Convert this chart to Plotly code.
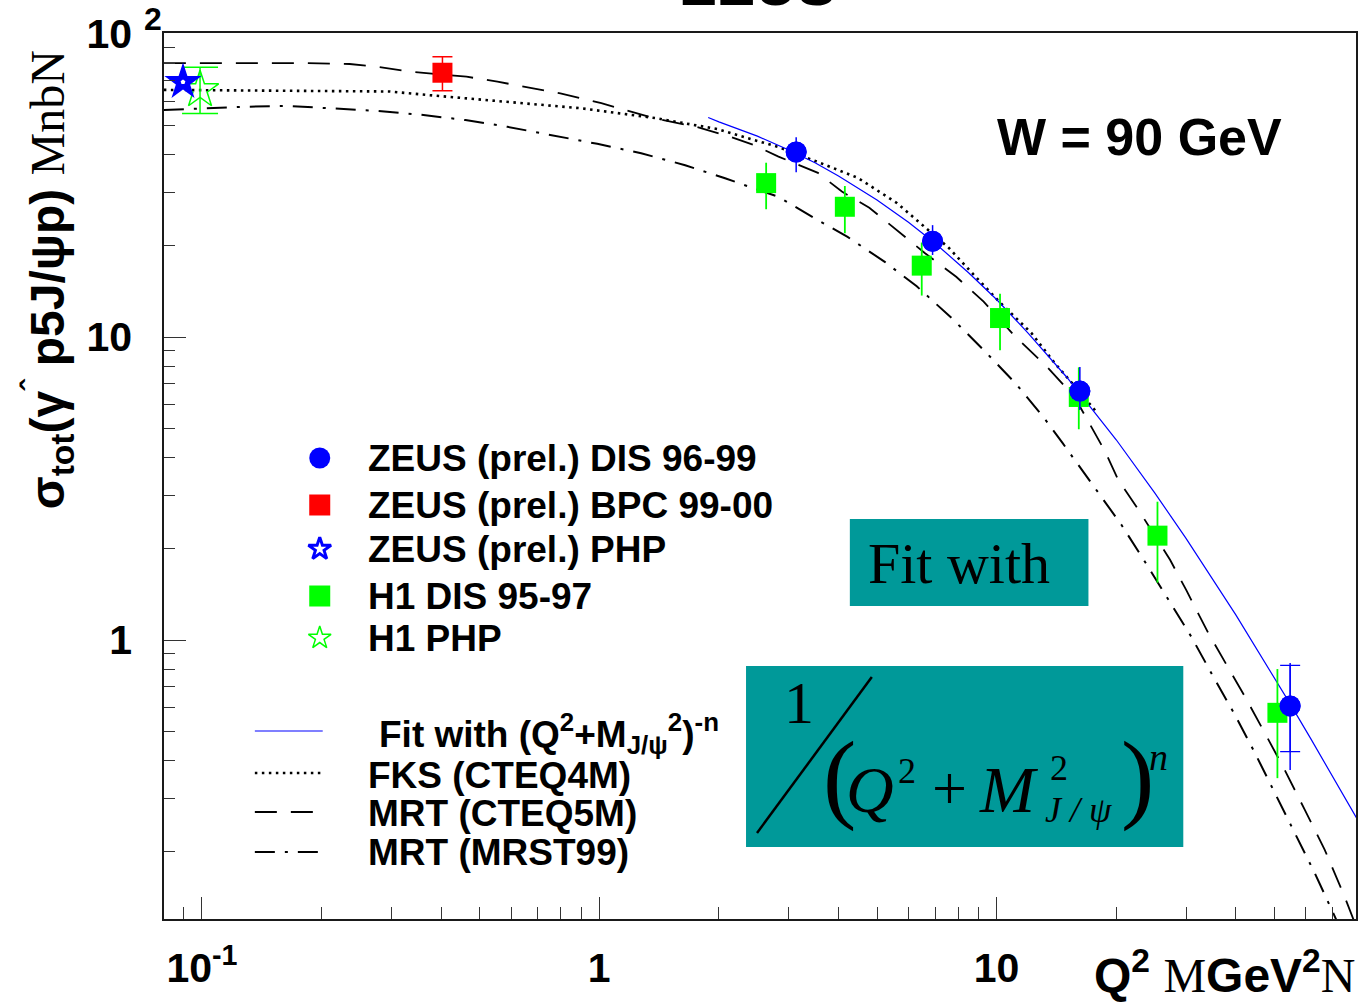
import plotly.graph_objects as go

# ---------------- measurements ----------------
zeus_dis_q2 = [3.13, 6.9, 16.2, 54.8]
zeus_dis_sigma = [40.8, 20.7, 6.63, 0.606]
zeus_dis_err_up = [4.8, 2.7, 1.33, 0.234]
zeus_dis_err_dn = [5.8, 2.05, 0.89, 0.234]
zeus_dis_stat_up = [0.0, 0.0, 0.0, 0.219]
zeus_dis_stat_dn = [0.0, 0.0, 0.0, 0.178]

zeus_bpc_q2 = [0.403]
zeus_bpc_sigma = [74.5]
zeus_bpc_err_up = [9.6]
zeus_bpc_err_dn = [9.5]

zeus_php_q2 = [0.0896]
zeus_php_sigma = [69.4]

h1_dis_q2 = [2.63, 4.15, 6.48, 10.2, 16.1, 25.4, 50.9]
h1_dis_sigma = [32.2, 26.9, 17.2, 11.55, 6.34, 2.21, 0.575]
h1_dis_err_up = [5.4, 4.6, 3.3, 2.35, 1.6, 0.65, 0.227]
h1_dis_err_dn = [5.8, 4.9, 3.5, 2.5, 1.38, 0.664, 0.225]

h1_php_q2 = [0.0989]
h1_php_sigma = [65.4]
h1_php_err_up = [12.2]
h1_php_err_dn = [10.7]

# ---------------- curves ----------------
fit_q2 = [1.88, 2.0, 2.5, 3.0, 3.5, 4.0, 5.0, 6.0, 7.0, 8.5, 10, 12, 15, 20,
          25, 30, 40, 47, 55, 62, 70, 82]
fit_sigma = [53.0, 51.3, 46.0, 41.4, 37.5, 34.0, 28.3, 23.9, 20.4, 16.3, 13.3,
             10.3, 7.38, 4.58, 3.06, 2.16, 1.21, 0.859, 0.611, 0.468, 0.356, 0.248]

fks_q2 = [0.0802, 0.297, 0.370, 0.574, 0.896, 1.394, 1.991, 2.368, 2.817, 3.551,
          4.476, 5.607, 6.594, 7.576, 8.855, 10.17, 12.24, 13.99, 15.70, 17.83]
fks_sigma = [65.4, 64.6, 62.9, 59.8, 56.9, 52.7, 48.5, 45.3, 42.4, 37.8,
             33.5, 27.7, 23.1, 19.7, 15.8, 13.05, 10.3, 8.21, 6.9, 5.66]

cteq5_q2 = [0.0802, 0.1176, 0.1763, 0.2354, 0.2801, 0.3332, 0.4633, 0.5543, 0.6788,
            0.7981, 1.012, 1.169, 1.374, 1.763, 2.146, 2.451, 2.825, 3.551, 4.079,
            4.782, 5.607, 6.594, 7.912, 9.276, 11.15, 13.38, 15.70, 17.23, 18.79,
            20.25, 22.75, 27.32, 30.02, 34.09, 38.28, 42.17, 47.33, 53.13, 59.66,
            66.96, 75.17, 80.0]
cteq5_sigma = [80.1, 80.1, 80.2, 79.6, 77.8, 75.2, 72.3, 69.6, 66.2,
               63.7, 59.1, 56.1, 52.7, 49.3, 45.7, 43.0, 39.4, 34.8, 30.2,
               26.7, 22.55, 18.93, 15.81, 13.08, 10.02, 7.98, 6.35, 5.12, 4.17,
               3.37, 2.69, 1.84, 1.46, 1.055, 0.815, 0.650, 0.493, 0.372, 0.275,
               0.203, 0.142, 0.115]

mrst_q2 = [0.0802, 0.126, 0.1626, 0.2121, 0.2737, 0.3529, 0.4605, 0.5872, 0.7666,
           0.9885, 1.275, 1.645, 2.073, 2.523, 2.825, 3.551, 4.216, 5.23, 6.295,
           7.732, 9.276, 11.15, 13.09, 14.65, 18.36, 20.61, 23.64, 27.05, 30.9,
           35.1, 39.79, 44.67, 50.13, 56.3, 63.21, 70.25, 72.5]
mrst_sigma = [56.1, 57.5, 57.9, 56.9, 55.8, 54.2, 52.0, 49.4, 46.2,
              43.4, 40.4, 36.9, 33.4, 30.6, 29.0, 24.3, 21.4, 17.7, 14.7,
              11.5, 9.06, 7.04, 5.46, 4.47, 2.97, 2.40, 1.81, 1.355, 1.025,
              0.757, 0.566, 0.424, 0.313, 0.231, 0.170, 0.126, 0.115]

# ---------------- axis ticks ----------------
x_major = [0.1, 1, 10]
x_major_text = ["10<sup>-1</sup>", "1", "10"]
x_minor = [0.09, 0.2, 0.3, 0.4, 0.5, 0.6, 0.7, 0.8, 0.9,
           2, 3, 4, 5, 6, 7, 8, 9, 20, 30, 40, 50, 60, 70, 80]
y_major = [1, 10, 100]
y_major_text = ["1", "10", "10"]
y_top_exponent = "2"
y_minor = [0.2, 0.3, 0.4, 0.5, 0.6, 0.7, 0.8, 0.9,
           2, 3, 4, 5, 6, 7, 8, 9, 20, 30, 40, 50, 60, 70, 80, 90]

# ---------------- styling ----------------
BLUE = "#0000ff"
RED = "#ff0000"
GREEN = "#00ff00"
TEAL = "#009999"
SANS = "Liberation Sans, Arial, sans-serif"
SERIF = "Liberation Serif, Times New Roman, serif"

# plot frame in page pixels
L, R, T, B = 164, 1358, 33, 919


def fx(px):
    return (px - L) / (R - L)


def fy(py):
    return (B - py) / (B - T)


fig = go.Figure()

# theory curves
fig.add_trace(go.Scatter(x=mrst_q2, y=mrst_sigma, mode="lines",
                         line=dict(color="black", width=2, dash="20px,10px,3px,10px")))
fig.add_trace(go.Scatter(x=cteq5_q2, y=cteq5_sigma, mode="lines",
                         line=dict(color="black", width=1.8, dash="22px,14px")))
fig.add_trace(go.Scatter(x=fks_q2, y=fks_sigma, mode="lines",
                         line=dict(color="black", width=2.6, dash="2.5px,4.5px")))
fig.add_trace(go.Scatter(x=fit_q2, y=fit_sigma, mode="lines",
                         line=dict(color=BLUE, width=1.2)))

# H1 photoproduction
fig.add_trace(go.Scatter(
    x=h1_php_q2, y=h1_php_sigma, mode="markers",
    marker=dict(symbol="star-open", size=28, color=GREEN, line=dict(color=GREEN, width=1.5)),
    error_y=dict(type="data", symmetric=False, array=h1_php_err_up,
                 arrayminus=h1_php_err_dn, color=GREEN, thickness=1.5, width=18)))

# ZEUS photoproduction
fig.add_trace(go.Scatter(
    x=zeus_php_q2, y=zeus_php_sigma, mode="markers",
    marker=dict(symbol="star", size=28, color=BLUE, line=dict(width=0))))
fig.add_trace(go.Scatter(
    x=zeus_php_q2, y=zeus_php_sigma, mode="markers",
    marker=dict(symbol="pentagon", size=5, color="white", line=dict(width=0))))

# ZEUS BPC
fig.add_trace(go.Scatter(
    x=zeus_bpc_q2, y=zeus_bpc_sigma, mode="markers",
    marker=dict(symbol="square", size=20, color=RED, line=dict(width=0)),
    error_y=dict(type="data", symmetric=False, array=zeus_bpc_err_up,
                 arrayminus=zeus_bpc_err_dn, color=RED, thickness=1.5, width=10)))

# H1 DIS
fig.add_trace(go.Scatter(
    x=h1_dis_q2, y=h1_dis_sigma, mode="markers",
    marker=dict(symbol="square", size=20, color=GREEN, line=dict(width=0)),
    error_y=dict(type="data", symmetric=False, array=h1_dis_err_up,
                 arrayminus=h1_dis_err_dn, color=GREEN, thickness=1.8, width=0)))

# ZEUS DIS: total errors, then statistical errors with caps
fig.add_trace(go.Scatter(
    x=zeus_dis_q2, y=zeus_dis_sigma, mode="markers",
    marker=dict(symbol="circle", size=21, color=BLUE, line=dict(width=0)),
    error_y=dict(type="data", symmetric=False, array=zeus_dis_err_up,
                 arrayminus=zeus_dis_err_dn, color=BLUE, thickness=1.5, width=0)))
fig.add_trace(go.Scatter(
    x=zeus_dis_q2, y=zeus_dis_sigma, mode="markers",
    marker=dict(symbol="circle", size=21, color=BLUE, line=dict(width=0)),
    error_y=dict(type="data", symmetric=False, array=zeus_dis_stat_up,
                 arrayminus=zeus_dis_stat_dn, color=BLUE, thickness=1.2, width=10)))

# ---------------- legend keys (overlay axes spanning the plot frame) ----------------
marker_keys = [
    (458, dict(symbol="circle", size=21, color=BLUE, line=dict(width=0))),
    (505, dict(symbol="square", size=21, color=RED, line=dict(width=0))),
    (549, dict(symbol="star-open", size=17, color=BLUE, line=dict(color=BLUE, width=3))),
    (596, dict(symbol="square", size=21, color=GREEN, line=dict(width=0))),
    (638, dict(symbol="star-open", size=17, color=GREEN, line=dict(color=GREEN, width=1.5))),
]
for py, mk in marker_keys:
    fig.add_trace(go.Scatter(x=[fx(320)], y=[fy(py)], xaxis="x2", yaxis="y2",
                             mode="markers", marker=mk, cliponaxis=False))

line_keys = [
    (731, dict(color=BLUE, width=1.2)),
    (773, dict(color="black", width=2.6, dash="2.5px,4.5px")),
    (812, dict(color="black", width=1.8, dash="22px,14px")),
    (852, dict(color="black", width=2, dash="20px,10px,3px,10px")),
]
for py, ln in line_keys:
    fig.add_trace(go.Scatter(x=[fx(255), fx(323)], y=[fy(py), fy(py)], xaxis="x2", yaxis="y2",
                             mode="lines", line=ln, cliponaxis=False))

legend_text = [
    (366, 458, "ZEUS (prel.) DIS 96-99"),
    (366, 505, "ZEUS (prel.) BPC 99-00"),
    (366, 549, "ZEUS (prel.) PHP"),
    (366, 596, "H1 DIS 95-97"),
    (366, 638, "H1 PHP"),
    (377, 733, "Fit with (Q<sup>2</sup>+M<sub>J/ψ</sub><sup>2</sup>)<sup>-n</sup>"),
    (366, 775, "FKS (CTEQ4M)"),
    (366, 813, "MRT (CTEQ5M)"),
    (366, 852, "MRT (MRST99)"),
]

annotations = []
for px, py, txt in legend_text:
    annotations.append(dict(x=fx(px), y=fy(py), xref="paper", yref="paper", text=txt,
                            showarrow=False, xanchor="left", yanchor="middle",
                            font=dict(family=SANS, size=37, color="black", weight="bold")))

# exponent of the top y tick label
annotations.append(dict(x=fx(153), y=fy(19), xref="paper", yref="paper", text=y_top_exponent,
                        showarrow=False, xanchor="center", yanchor="middle",
                        font=dict(family=SANS, size=32, color="black", weight="bold")))

# heading and energy label
annotations.append(dict(x=fx(759), y=fy(-16), xref="paper", yref="paper", text="ZEUS",
                        showarrow=False, xanchor="center", yanchor="middle",
                        font=dict(family=SANS, size=58, color="black", weight="bold")))
annotations.append(dict(x=fx(1141), y=fy(137), xref="paper", yref="paper", text="W = 90 GeV",
                        showarrow=False, xanchor="center", yanchor="middle",
                        font=dict(family=SANS, size=52, color="black", weight="bold")))

# axis titles
serif_span = "<span style='font-family:Liberation Serif, Times New Roman, serif;font-weight:normal'>{}</span>"
annotations.append(dict(
    x=fx(47), y=fy(280), xref="paper", yref="paper", textangle=-90,
    text="σ<sub>tot</sub>(γ<sup>ˆ</sup> p5J/ψp) " + serif_span.format("MnbN"),
    showarrow=False, xanchor="center", yanchor="middle",
    font=dict(family=SANS, size=48, color="black", weight="bold")))
annotations.append(dict(
    x=fx(1359), y=fy(972), xref="paper", yref="paper",
    text="Q<sup>2</sup> " + serif_span.format("M") + "GeV<sup>2</sup>" + serif_span.format("N"),
    showarrow=False, xanchor="right", yanchor="middle",
    font=dict(family=SANS, size=48, color="black", weight="bold")))

# formula boxes
annotations.append(dict(x=fx(867), y=fy(563), xref="paper", yref="paper", text="Fit with",
                        showarrow=False, xanchor="left", yanchor="middle",
                        font=dict(family=SERIF, size=58, color="black")))
formula_parts = [
    (800, 703, "1", 60, False),
    (841, 776, "(", 100, False),
    (871, 789, "Q", 66, True),
    (908, 771, "2", 36, False),
    (951, 788, "+", 62, False),
    (1010, 789, "M", 66, True),
    (1061, 768, "2", 36, False),
    (1080, 810, "J / ψ", 36, True),
    (1139, 776, ")", 100, False),
    (1160, 757, "n", 38, True),
]
for px, py, txt, size, ital in formula_parts:
    annotations.append(dict(x=fx(px), y=fy(py), xref="paper", yref="paper",
                            text=("<i>%s</i>" % txt) if ital else txt,
                            showarrow=False, xanchor="center", yanchor="middle",
                            font=dict(family=SERIF, size=size, color="black")))

shapes = [
    dict(type="rect", xref="paper", yref="paper", x0=fx(851), x1=fx(1090), y0=fy(606), y1=fy(519),
         fillcolor=TEAL, line=dict(width=0), layer="below"),
    dict(type="rect", xref="paper", yref="paper", x0=fx(747), x1=fx(1185), y0=fy(847), y1=fy(666),
         fillcolor=TEAL, line=dict(width=0), layer="below"),
    dict(type="line", xref="paper", yref="paper", x0=fx(758), y0=fy(833), x1=fx(873), y1=fy(677),
         line=dict(color="black", width=2.5)),
]

tick_font = dict(family=SANS, size=41, color="black", weight="bold")

fig.update_layout(
    width=1360, height=1002,
    margin=dict(l=L, r=1360 - R, t=T, b=1002 - B, pad=0),
    paper_bgcolor="white", plot_bgcolor="rgba(0,0,0,0)",
    showlegend=False,
    xaxis=dict(type="log", range=[-1.0955, 1.9045], showgrid=False, zeroline=False,
               showline=True, linecolor="#1a1a1a", linewidth=1.5, mirror=True,
               ticks="inside", ticklen=22, tickwidth=1, tickcolor="#333",
               tickvals=x_major, ticktext=x_major_text, tickfont=tick_font,
               ticklabelstandoff=12,
               minor=dict(ticks="inside", ticklen=12, tickwidth=1, tickcolor="#333",
                          tickvals=x_minor, showgrid=False)),
    yaxis=dict(type="log", range=[-0.9208, 2.0033], showgrid=False, zeroline=False,
               showline=True, linecolor="#1a1a1a", linewidth=1.5, mirror=True,
               ticks="inside", ticklen=22, tickwidth=1, tickcolor="#333",
               tickvals=y_major, ticktext=y_major_text, tickfont=tick_font,
               ticklabelstandoff=22,
               minor=dict(ticks="inside", ticklen=11, tickwidth=1, tickcolor="#333",
                          tickvals=y_minor, showgrid=False)),
    xaxis2=dict(overlaying="x", range=[0, 1], visible=False, fixedrange=True),
    yaxis2=dict(overlaying="y", range=[0, 1], visible=False, fixedrange=True),
    annotations=annotations,
    shapes=shapes,
)

fig.write_html("out.html")
